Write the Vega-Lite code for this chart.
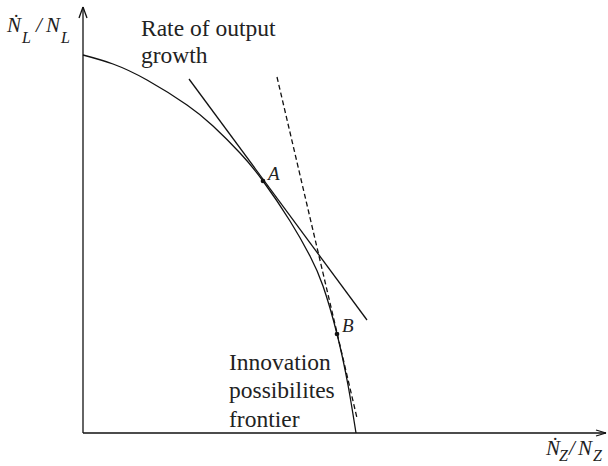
{
  "$schema": "https://vega.github.io/schema/vega-lite/v6.json",
  "width": 608,
  "height": 466,
  "autosize": {"type": "fit", "contains": "padding"},
  "padding": 0,
  "background": "white",
  "config": {"view": {"stroke": null}},
  "datasets": {
    "axes": [
      {"x": 0, "y": 0, "x2": 0, "y2": 426},
      {"x": 0, "y": 0, "x2": 523, "y2": 0},
      {"x": -4, "y": 415, "x2": 0, "y2": 426},
      {"x": 4, "y": 415, "x2": 0, "y2": 426},
      {"x": 513, "y": 3, "x2": 523, "y2": 0},
      {"x": 513, "y": -3, "x2": 523, "y2": 0}
    ],
    "frontier": [
      {"x": 0, "y": 378},
      {"x": 30, "y": 369},
      {"x": 64, "y": 353},
      {"x": 104, "y": 328},
      {"x": 130, "y": 307},
      {"x": 157, "y": 280},
      {"x": 180, "y": 252},
      {"x": 207, "y": 212},
      {"x": 227, "y": 177},
      {"x": 240, "y": 147},
      {"x": 254, "y": 99},
      {"x": 265, "y": 48},
      {"x": 273, "y": 0}
    ],
    "tangentA": [
      {"x": 106, "y": 354, "x2": 284, "y2": 113}
    ],
    "tangentB": [
      {"x": 194, "y": 356, "x2": 274, "y2": 15}
    ],
    "points": [
      {"x": 180, "y": 252, "label": "A"},
      {"x": 254, "y": 99, "label": "B"}
    ],
    "pointLabels": [
      {"x": 185, "y": 253, "label": "A"},
      {"x": 259, "y": 101, "label": "B"}
    ],
    "notes": [
      {"x": 58, "y": 397, "label": "Rate of output"},
      {"x": 58, "y": 370, "label": "growth"},
      {"x": 146, "y": 63, "label": "Innovation"},
      {"x": 146, "y": 35, "label": "possibilites"},
      {"x": 146, "y": 6, "label": "frontier"}
    ],
    "axisMain": [
      {"x": -76, "y": 401, "label": "Ṅ"},
      {"x": -47, "y": 401, "label": "/"},
      {"x": -37, "y": 401, "label": "N"},
      {"x": 463, "y": -22, "label": "Ṅ"},
      {"x": 486, "y": -22, "label": "/"},
      {"x": 495, "y": -22, "label": "N"}
    ],
    "axisSub": [
      {"x": -61, "y": 390, "label": "L"},
      {"x": -22, "y": 390, "label": "L"},
      {"x": 476, "y": -28, "label": "Z"},
      {"x": 510, "y": -28, "label": "Z"}
    ]
  },
  "encoding": {
    "x": {"field": "x", "type": "quantitative", "scale": {"domain": [-83, 525], "nice": false, "zero": false}, "axis": null},
    "y": {"field": "y", "type": "quantitative", "scale": {"domain": [-33, 433], "nice": false, "zero": false}, "axis": null}
  },
  "layer": [
    {
      "data": {"name": "axes"},
      "mark": {"type": "rule", "color": "#111", "strokeWidth": 1.3},
      "encoding": {"x2": {"field": "x2"}, "y2": {"field": "y2"}}
    },
    {
      "data": {"name": "frontier"},
      "mark": {"type": "line", "color": "#111", "strokeWidth": 1.3, "interpolate": "natural"},
      "encoding": {"order": {"field": "x", "type": "quantitative"}}
    },
    {
      "data": {"name": "tangentA"},
      "mark": {"type": "rule", "color": "#111", "strokeWidth": 1.3},
      "encoding": {"x2": {"field": "x2"}, "y2": {"field": "y2"}}
    },
    {
      "data": {"name": "tangentB"},
      "mark": {"type": "rule", "color": "#111", "strokeWidth": 1.3, "strokeDash": [5, 3]},
      "encoding": {"x2": {"field": "x2"}, "y2": {"field": "y2"}}
    },
    {
      "data": {"name": "points"},
      "mark": {"type": "point", "filled": true, "color": "#111", "size": 22, "opacity": 1}
    },
    {
      "data": {"name": "pointLabels"},
      "mark": {"type": "text", "align": "left", "baseline": "alphabetic", "font": "Liberation Serif", "fontStyle": "italic", "fontSize": 19, "color": "#222"},
      "encoding": {"text": {"field": "label"}}
    },
    {
      "data": {"name": "notes"},
      "mark": {"type": "text", "align": "left", "baseline": "alphabetic", "font": "Liberation Serif", "fontSize": 23.5, "color": "#222"},
      "encoding": {"text": {"field": "label"}}
    },
    {
      "data": {"name": "axisMain"},
      "mark": {"type": "text", "align": "left", "baseline": "alphabetic", "font": "Liberation Serif", "fontStyle": "italic", "fontSize": 21, "color": "#222"},
      "encoding": {"text": {"field": "label"}}
    },
    {
      "data": {"name": "axisSub"},
      "mark": {"type": "text", "align": "left", "baseline": "alphabetic", "font": "Liberation Serif", "fontStyle": "italic", "fontSize": 16, "color": "#222"},
      "encoding": {"text": {"field": "label"}}
    }
  ]
}
